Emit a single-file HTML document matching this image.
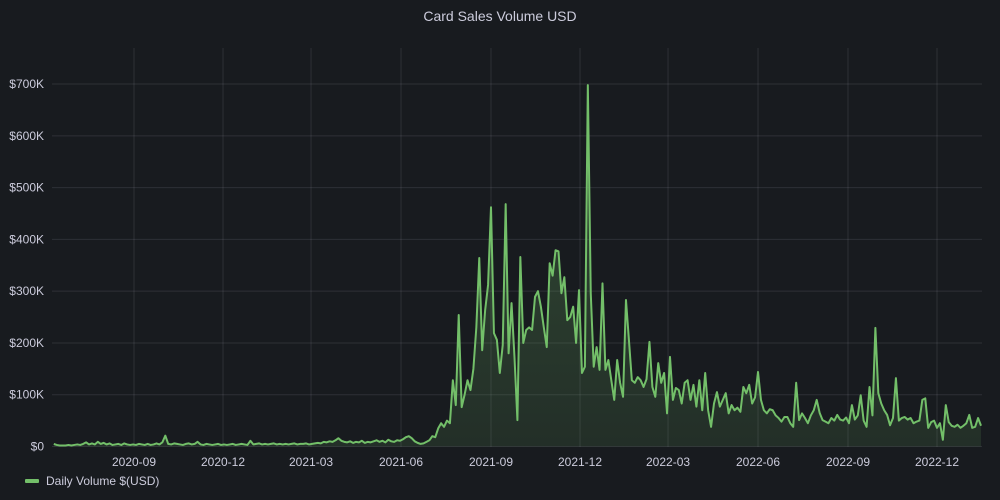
<!DOCTYPE html>
<html><head><meta charset="utf-8"><style>
html,body{margin:0;padding:0;background:#181b1f;}
svg{display:block;font-family:"Liberation Sans",sans-serif;}
</style></head><body>
<svg id="chart" width="1000" height="500" viewBox="0 0 1000 500">
<defs><linearGradient id="fillg" x1="0" y1="0" x2="0" y2="1">
<stop offset="0" stop-color="#73bf69" stop-opacity="0.3"/><stop offset="1" stop-color="#73bf69" stop-opacity="0.12"/></linearGradient></defs>
<rect width="1000" height="500" fill="#181b1f"/>
<text x="500" y="21" text-anchor="middle" fill="#ccccdc" font-size="14">Card Sales Volume USD</text>
<g id="grid"></g>
<g id="yaxis"></g>
<g id="xaxis"></g>
<path id="area" fill="url(#fillg)"/>
<path id="line" fill="none" stroke="#73bf69" stroke-width="2" stroke-linejoin="round"/>
<g>
<rect x="25" y="479" width="14" height="4" rx="1" fill="#73bf69"/>
<text x="46" y="485" fill="#ccccdc" font-size="12">Daily Volume $(USD)</text>
</g>
</svg>
<script>
const startDate = "2020-06-11";
const stepDays = 3;
const volumeK = [
5,3,2,2,2,3,2,3,4,3,
5,8,4,6,4,9,5,7,4,6,
3,4,5,3,6,4,3,4,3,5,
4,3,5,3,4,6,4,8,21,5,
4,6,5,4,3,5,6,4,5,9,
4,3,5,4,3,4,5,3,4,3,
4,5,3,4,5,4,3,11,4,5,
6,4,5,4,5,6,4,5,4,5,
4,5,6,4,5,5,6,4,5,6,
7,6,9,8,10,9,12,16,11,9,
8,10,7,9,8,11,7,9,8,10,
12,9,11,8,13,10,9,12,11,
14,18,20,16,10,7,5,
6,9,12,20,18,35,45,38,50,45,128,80,254,76,100,128,109,150,230,364,
186,263,312,462,219,206,142,196,468,180,277,173,51,366,200,225,230,225,289,300,
270,230,192,354,330,379,377,296,327,244,250,270,200,302,142,154,698,296,154,192,
148,315,148,167,128,90,167,123,96,283,206,128,123,134,128,115,130,202,115,96,
161,123,142,64,173,90,113,109,83,123,128,90,119,77,128,70,142,70,38,83,
105,77,90,103,64,80,70,75,67,115,103,119,83,95,144,90,70,64,72,70,
60,55,48,57,57,45,38,123,51,64,55,45,60,70,90,65,51,48,45,55,
50,61,52,50,56,45,80,52,60,99,50,38,115,60,229,103,83,70,61,41,
55,132,50,55,57,52,55,45,48,50,90,93,36,47,50,36,45,13,80,47,
40,38,42,36,40,45,61,36,38,55,40];
const yTicks = [0,100,200,300,400,500,600,700];
const yTickLabels = ["$0","$100K","$200K","$300K","$400K","$500K","$600K","$700K"];
const xTickDates = ["2020-09-01","2020-12-01","2021-03-01","2021-06-01","2021-09-01","2021-12-01","2022-03-01","2022-06-01","2022-09-01","2022-12-01"];
const xTickLabels = ["2020-09","2020-12","2021-03","2021-06","2021-09","2021-12","2022-03","2022-06","2022-09","2022-12"];

const NS="http://www.w3.org/2000/svg";
const DAY=86400000;
const t0=Date.parse(startDate);
const refT=Date.parse("2020-09-01"), refX=134, pxPerDay=(937-134)/((Date.parse("2022-12-01")-refT)/DAY);
function xScale(t){return refX+(t-refT)/DAY*pxPerDay;}
function yScale(v){return 446.5-v*0.5178;}
const grid=document.getElementById('grid'), ya=document.getElementById('yaxis'), xa=document.getElementById('xaxis');
yTicks.forEach((v,i)=>{
  const y=yScale(v);
  const l=document.createElementNS(NS,'line');
  l.setAttribute('x1',52);l.setAttribute('x2',982);l.setAttribute('y1',y);l.setAttribute('y2',y);
  l.setAttribute('stroke','rgba(204,204,220,0.12)');
  
  
  grid.appendChild(l);
  const t=document.createElementNS(NS,'text');
  t.setAttribute('x',44);t.setAttribute('y',y+4);t.setAttribute('text-anchor','end');
  t.setAttribute('fill','#ccccdc');t.setAttribute('font-size','12');
  t.textContent=yTickLabels[i];
  
  
  ya.appendChild(t);
});
xTickDates.forEach((d,i)=>{
  const x=xScale(Date.parse(d));
  const l=document.createElementNS(NS,'line');
  l.setAttribute('x1',x);l.setAttribute('x2',x);l.setAttribute('y1',48);l.setAttribute('y2',447);
  l.setAttribute('stroke','rgba(204,204,220,0.12)');
  
  
  grid.appendChild(l);
  const t=document.createElementNS(NS,'text');
  t.setAttribute('x',x);t.setAttribute('y',466);t.setAttribute('text-anchor','middle');
  t.setAttribute('fill','#ccccdc');t.setAttribute('font-size','12');
  t.textContent=xTickLabels[i];
  
  
  xa.appendChild(t);
});
let d='';
volumeK.forEach((v,i)=>{
  const x=xScale(t0+i*stepDays*DAY), y=yScale(v);
  d+=(i?'L':'M')+x.toFixed(2)+','+y.toFixed(2);
});
document.getElementById('line').setAttribute('d',d);
const xs=xScale(t0), xe=xScale(t0+(volumeK.length-1)*stepDays*DAY);
document.getElementById('area').setAttribute('d',d+'L'+xe.toFixed(2)+','+yScale(0)+'L'+xs.toFixed(2)+','+yScale(0)+'Z');
</script>
</body></html>
